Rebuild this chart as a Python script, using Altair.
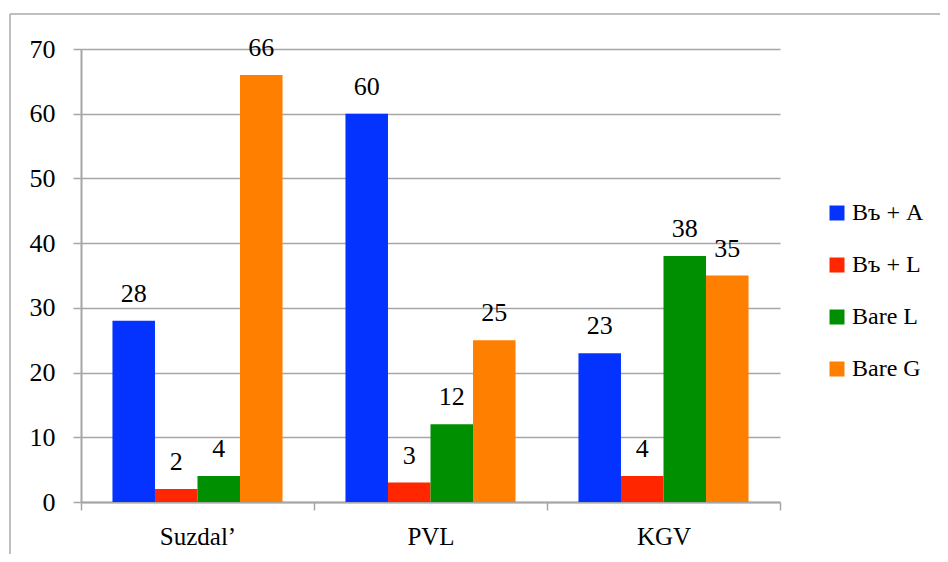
import altair as alt
import pandas as pd

sources = ["Suzdal’", "PVL", "KGV"]
series = ["Въ + A", "Въ + L", "Bare L", "Bare G"]
colors = ["#0433FF", "#FF2600", "#008F00", "#FF7F00"]
suzdal = [28, 2, 4, 66]
pvl = [60, 3, 12, 25]
kgv = [23, 4, 38, 35]
y_ticks = [0, 10, 20, 30, 40, 50, 60, 70]

rows = []
for src, vals in zip(sources, [suzdal, pvl, kgv]):
    for s, v in zip(series, vals):
        rows.append({"source": src, "series": s, "value": v})
df = pd.DataFrame(rows)

FONT = "Liberation Serif"
GRAY = "#a6a6a6"

base = alt.Chart(df).encode(
    x=alt.X(
        "source:N",
        sort=sources,
        scale=alt.Scale(paddingInner=0, paddingOuter=0),
        axis=alt.Axis(
            title=None, labelAngle=0, tickBand="extent", domainColor=GRAY,
            domainWidth=2, tickColor=GRAY, tickWidth=1.5, tickSize=8,
            labelFont=FONT, labelFontSize=25, labelColor="black",
            labelPadding=14, grid=False,
        ),
    ),
    xOffset=alt.XOffset(
        "series:N", sort=series,
        scale=alt.Scale(paddingInner=0, paddingOuter=0.74),
    ),
)

bars = base.mark_bar().encode(
    y=alt.Y(
        "value:Q",
        scale=alt.Scale(domain=[0, 70], nice=False),
        axis=alt.Axis(
            title=None, values=y_ticks, domainColor=GRAY, domainWidth=2,
            tickColor=GRAY, tickWidth=1.5, tickSize=8, gridColor=GRAY,
            gridWidth=1.5, labelFont=FONT, labelFontSize=26,
            labelColor="black", labelPadding=18,
        ),
    ),
    color=alt.Color(
        "series:N", sort=series,
        scale=alt.Scale(domain=series, range=colors),
        legend=alt.Legend(title=None),
    ),
)

labels = base.mark_text(
    font=FONT, fontSize=26, color="black", baseline="alphabetic", dy=-19
).encode(
    y=alt.Y("value:Q"),
    text=alt.Text("value:Q"),
)

frame_data = alt.Data(values=[{"k": 0}])
frame_left = alt.Chart(frame_data).mark_rule(color="#aaaaaa", strokeWidth=1.5).encode(
    x=alt.value(-71), y=alt.value(-35), y2=alt.value(800)
)
frame_top = alt.Chart(frame_data).mark_rule(color="#aaaaaa", strokeWidth=1.5).encode(
    x=alt.value(-71), x2=alt.value(1200), y=alt.value(-35)
)

chart = alt.layer(frame_left, frame_top, bars, labels).properties(
    width=699,
    height=453,
    autosize=alt.AutoSizeParams(type="none"),
    padding={"left": 73, "top": 41, "right": 160, "bottom": 52},
).configure_view(stroke=None).configure_legend(
    orient="none", legendX=744, legendY=152, symbolType="square",
    symbolSize=225, symbolStrokeWidth=0, labelFont=FONT, labelFontSize=24,
    labelColor="black", rowPadding=28, labelOffset=3, padding=0,
)

chart.save("out.html", embed_options={"renderer": "svg", "actions": False})
